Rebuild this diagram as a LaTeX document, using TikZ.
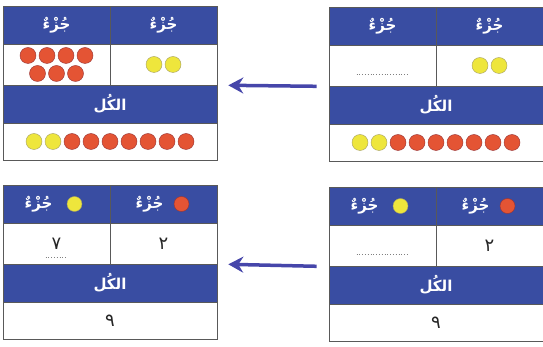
\documentclass[tikz,border=0pt]{standalone}
\usepackage{fontspec}
\usepackage{tikz}
\usetikzlibrary{arrows.meta}
\newfontfamily\arabicfont[Script=Arabic]{DejaVu Sans}
\TeXXeTstate=1
\definecolor{hdrblue}{RGB}{57,77,162}
\definecolor{arrowblue}{RGB}{70,70,170}
\definecolor{ballred}{RGB}{228,84,52}
\definecolor{ballyellow}{RGB}{238,230,60}

\begin{document}
\begin{tikzpicture}[x=1pt,y=-1pt]
            \tikzstyle{cell}=[rectangle,draw=gray!70!black,line width=0.6pt,fill=white,inner sep=0pt]
            \tikzstyle{hdr}=[cell,fill=hdrblue]
            \tikzstyle{hdrtext}=[text=white,font=\arabicfont\bfseries\fontsize{15}{18}\selectfont,inner sep=0pt]
            \tikzstyle{numtext}=[text=black!85,font=\arabicfont\fontsize{18}{21}\selectfont,inner sep=0pt]
            \tikzstyle{redball}=[circle,draw=red!50!black!80,fill=ballred,minimum size=16pt,inner sep=0pt]
            \tikzstyle{yellowball}=[circle,draw=yellow!50!black!80,fill=ballyellow,minimum size=16pt,inner sep=0pt]
            \useasboundingbox (0,0) rectangle (543,347);
            \foreach \p/\x/\y in {TL/3/6, TR/329/7, BL/3/185, BR/329/187} {
                    \node[hdr,minimum width=107pt,minimum height=38pt] (\p-h1) at (\x+53.5,\y+19) {};
                    \node[hdr,minimum width=107pt,minimum height=38pt] (\p-h2) at (\x+160.5,\y+19) {};
                    \node[cell,minimum width=107pt,minimum height=41pt] (\p-v1) at (\x+53.5,\y+58.5) {};
                    \node[cell,minimum width=107pt,minimum height=41pt] (\p-v2) at (\x+160.5,\y+58.5) {};
                    \node[hdr,minimum width=214pt,minimum height=38pt] (\p-th) at (\x+107,\y+98) {};
                    \node[cell,minimum width=214pt,minimum height=37pt] (\p-tv) at (\x+107,\y+135.5) {};
                    \node[hdrtext] (\p-tt) at (\p-th) {\beginR الكُل\endR};
            }
            \foreach \p in {TL, TR} {
                    \node[hdrtext] (\p-t1) at (\p-h1) {\beginR جُزْءٌ\endR};
                    \node[hdrtext] (\p-t2) at (\p-h2) {\beginR جُزْءٌ\endR};
                    \foreach \i in {1,2}
                        \node[yellowball] (\p-b\i) at ([shift={({(\i-5)*19},0)}]\p-tv.center) {};
                    \foreach \i in {3,...,9}
                        \node[redball] (\p-b\i) at ([shift={({(\i-5)*19},0)}]\p-tv.center) {};
                    \foreach \dx/\i in {-9.5/1, 9.5/2}
                        \node[yellowball] (\p-y\i) at ([shift={(\dx,0)}]\p-v2.center) {};
            }
            \foreach \dx/\i in {-28.5/1, -9.5/2, 9.5/3, 28.5/4}
                    \node[redball] (TL-r\i) at ([shift={(\dx,-9)}]TL-v1.center) {};
            \foreach \dx/\i in {-19/5, 0/6, 19/7}
                    \node[redball] (TL-r\i) at ([shift={(\dx,9)}]TL-v1.center) {};

            \foreach \p in {BL, BR} {
                    \node[hdrtext] (\p-t1) at ([xshift=-18pt]\p-h1.center) {\beginR جُزْءٌ\endR};
                    \node[hdrtext] (\p-t2) at ([xshift=-14pt]\p-h2.center) {\beginR جُزْءٌ\endR};
                    \node[yellowball,minimum size=15pt] (\p-k1) at ([xshift=18pt]\p-h1.center) {};
                    \node[redball,minimum size=15pt] (\p-k2) at ([xshift=18pt]\p-h2.center) {};
                    \node[numtext] (\p-n2) at (\p-v2) {\beginR ٢\endR};
                    \node[numtext] (\p-n3) at (\p-tv) {\beginR ٩\endR};
            }
            \node[numtext] (BL-n1) at (BL-v1) {\beginR ٧\endR};

            \draw[dotted,gray,thick] ([shift={(-11,14)}]BL-v1.center) -- ([shift={(10,14)}]BL-v1.center);
            \foreach \p in {TR, BR}
                    \draw[dotted,gray,thick] ([shift={(-26,9)}]\p-v1.center) -- ([shift={(26,9)}]\p-v1.center);

            \draw[arrowblue,line width=3.5pt,-{Stealth[length=15pt,width=16pt,inset=5pt]}] ([xshift=-12pt]TR-v1.south west) -- ([xshift=11pt]TL-v2.south east);
            \draw[arrowblue,line width=3.5pt,-{Stealth[length=15pt,width=16pt,inset=5pt]}] ([xshift=-12pt]BR-v1.south west) -- ([xshift=11pt]BL-v2.south east);
\end{tikzpicture}
\end{document}
